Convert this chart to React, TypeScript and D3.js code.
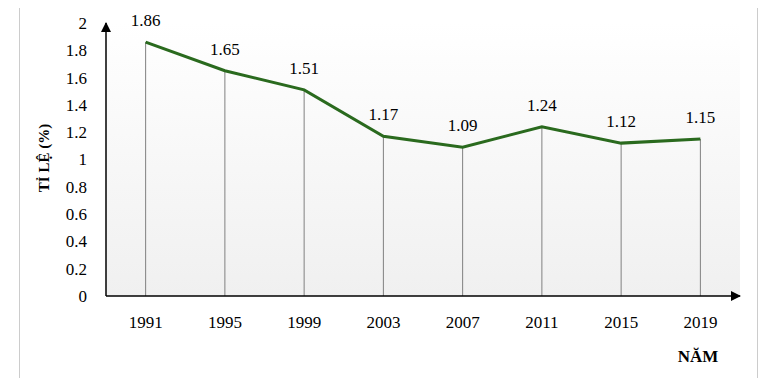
import React from 'react';
import * as d3 from 'd3';

const years = ['1991', '1995', '1999', '2003', '2007', '2011', '2015', '2019'];
const rates = [1.86, 1.65, 1.51, 1.17, 1.09, 1.24, 1.12, 1.15];
const yTicks = [0, 0.2, 0.4, 0.6, 0.8, 1, 1.2, 1.4, 1.6, 1.8, 2];

const W = 766;
const H = 386;
const left = 106, right = 740, top = 23, bottom = 296;
const font = "'Liberation Serif'";

const x = d3.scaleBand<string>().domain(years).range([left, right]);
const y = d3.scaleLinear().domain([0, 2]).range([bottom, top]);
const cx = (d: string) => (x(d) as number) + x.bandwidth() / 2;

const linePath = d3.line<number>()
  .x((d, i) => cx(years[i]))
  .y(d => y(d))(rates) as string;

const txt = { fontFamily: font, fontSize: 17 };

export default function App() {
  return (
    <div style={{ width: W, height: H, margin: -8 }}>
      <svg width={W} height={H} style={{ display: 'block' }}>
        <defs>
          <linearGradient id="bg" x1="0" y1="0" x2="0" y2="1">
            <stop offset="0%" stopColor="#ffffff" />
            <stop offset="100%" stopColor="#f0f0f0" />
          </linearGradient>
          <marker id="arrow" viewBox="0 0 10 10" refX={9} refY={5}
            markerWidth={10} markerHeight={10} markerUnits="userSpaceOnUse" orient="auto">
            <path d="M0,0L10,5L0,10Z" fill="#000" />
          </marker>
        </defs>

        {/* outer frame */}
        <rect x={19.5} y={3.5} width={738} height={377} fill="#fff" stroke="#cccccc" />

        <rect x={left} y={top} width={right - left} height={bottom - top} fill="url(#bg)" />

        {/* drop lines */}
        {years.map((d, i) => (
          <line key={d} x1={cx(d)} x2={cx(d)} y1={y(rates[i])} y2={bottom}
            stroke="#808080" strokeWidth={1} />
        ))}

        {/* axes */}
        <line x1={left} x2={left} y1={bottom} y2={top} stroke="#000" strokeWidth={1.5} markerEnd="url(#arrow)" />
        <line x1={left} x2={right} y1={bottom} y2={bottom} stroke="#000" strokeWidth={1.5} markerEnd="url(#arrow)" />

        {yTicks.map(t => (
          <text key={t} x={87} y={y(t)} dy="0.35em" textAnchor="end" style={txt}>{String(t)}</text>
        ))}

        {years.map(d => (
          <text key={d} x={cx(d)} y={328} textAnchor="middle" style={txt}>{d}</text>
        ))}

        <path d={linePath} fill="none" stroke="#2a6a1e" strokeWidth={3} />

        {rates.map((v, i) => (
          <text key={i} x={cx(years[i])} y={y(v) - 16} textAnchor="middle" style={txt}>{v.toFixed(2)}</text>
        ))}

        <text transform="translate(49,158) rotate(-90)" textAnchor="middle"
          style={{ fontFamily: font, fontSize: 15, fontWeight: 'bold' }}>TỈ LỆ (%)</text>
        <text x={698} y={362} textAnchor="middle"
          style={{ fontFamily: font, fontSize: 17, fontWeight: 'bold' }}>NĂM</text>
      </svg>
    </div>
  );
}
